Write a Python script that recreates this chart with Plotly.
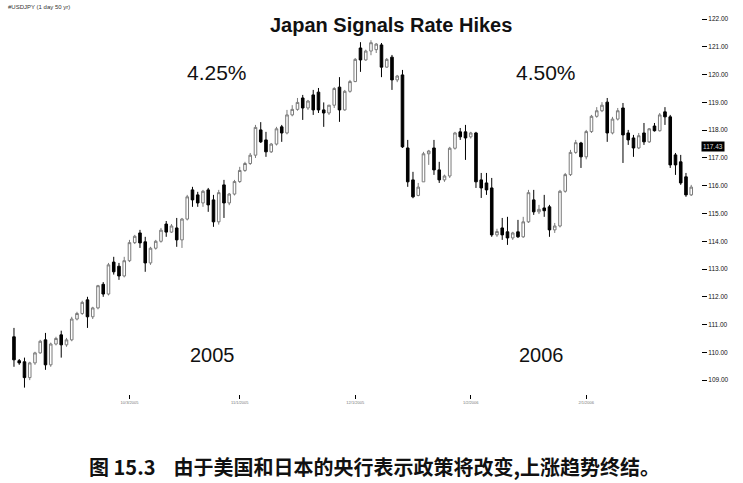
import pandas as pd
import plotly.graph_objects as go

# ---- data (USD/JPY daily candles) ----
dates = [d.strftime("%Y-%m-%d") for d in pd.bdate_range("2005-09-01", periods=130)]

opens = [
    110.56, 109.70, 109.66, 109.09, 109.62, 109.98, 110.45, 109.55, 110.30, 110.63,
    110.27, 110.45, 111.20, 111.40, 111.89, 111.28, 111.60, 112.45, 112.10, 113.25,
    113.10, 112.75, 113.30, 113.95, 114.30, 113.98, 113.22, 113.75, 114.00, 114.62,
    114.33, 114.48, 114.05, 114.80, 115.85, 115.67, 115.38, 115.85, 115.49, 114.70,
    116.03, 115.38, 115.70, 116.15, 116.55, 116.80, 117.10, 118.01, 117.65, 117.22,
    117.50, 118.12, 117.90, 118.55, 118.75, 119.16, 118.80, 119.27, 119.37, 118.73,
    118.62, 118.90, 119.55, 118.73, 119.40, 119.75, 120.96, 120.53, 120.85, 120.90,
    121.07, 120.27, 120.63, 119.81, 119.99, 117.36, 116.21, 115.65, 116.14, 117.15,
    117.36, 116.57, 116.21, 116.35, 117.35, 117.94, 117.94, 117.76, 117.90, 116.21,
    116.10, 115.92, 114.23, 114.48, 114.34, 114.12, 114.34, 114.16, 114.70, 115.49,
    115.06, 115.20, 115.24, 114.41, 114.55, 115.80, 116.40, 117.20, 117.54, 117.04,
    117.95, 118.50, 118.70, 119.01, 117.90, 118.40, 118.80, 117.90, 117.72, 117.36,
    117.90, 117.58, 118.15, 117.98, 118.66, 118.48, 117.11, 116.86, 116.32, 115.67,
]
highs = [
    110.88, 109.76, 109.81, 109.66, 110.02, 110.45, 110.70, 110.35, 110.56, 110.78,
    110.52, 111.28, 111.46, 111.86, 112.00, 111.64, 112.43, 112.53, 113.22, 113.44,
    113.22, 113.44, 114.05, 114.23, 114.41, 114.16, 113.80, 114.05, 114.48, 114.73,
    114.62, 114.84, 114.84, 115.67, 115.96, 115.78, 115.85, 115.92, 115.67, 115.85,
    116.21, 115.74, 116.21, 116.68, 116.86, 117.18, 118.19, 118.29, 117.94, 117.54,
    118.12, 118.19, 118.73, 118.90, 119.16, 119.27, 119.09, 119.45, 119.52, 119.00,
    118.91, 119.55, 119.91, 119.45, 119.81, 120.60, 121.17, 120.90, 121.24, 121.14,
    121.14, 120.60, 120.71, 119.99, 120.17, 117.65, 116.50, 116.10, 117.22, 117.29,
    117.65, 116.86, 116.40, 117.40, 117.94, 118.08, 118.19, 117.94, 117.94, 116.46,
    116.46, 116.28, 114.45, 114.84, 114.88, 114.34, 114.77, 114.88, 115.85, 115.85,
    115.31, 115.67, 115.31, 114.66, 115.85, 116.46, 117.29, 117.65, 117.58, 118.01,
    118.55, 118.83, 119.01, 119.16, 118.48, 118.80, 118.98, 118.01, 117.83, 117.90,
    118.26, 118.08, 118.26, 118.62, 118.83, 118.55, 117.18, 117.11, 116.46, 116.03,
]
lows = [
    109.48, 109.55, 108.73, 109.00, 109.55, 109.95, 109.37, 109.48, 110.25, 109.81,
    110.20, 110.40, 111.15, 111.35, 110.88, 111.20, 111.55, 112.00, 112.05, 112.80,
    112.61, 112.70, 113.25, 113.90, 113.76, 112.90, 113.15, 113.70, 113.95, 114.16,
    114.30, 113.80, 113.76, 114.75, 115.24, 115.24, 115.24, 115.06, 114.52, 114.60,
    114.84, 115.30, 115.65, 116.10, 116.50, 116.75, 117.00, 117.54, 117.04, 117.18,
    117.45, 117.58, 117.85, 118.50, 118.70, 118.37, 118.73, 118.55, 118.62, 118.12,
    118.55, 118.80, 118.30, 118.70, 119.35, 119.73, 120.10, 120.50, 120.70, 120.78,
    119.91, 120.25, 119.45, 119.73, 117.36, 115.96, 115.55, 115.62, 116.14, 116.75,
    116.39, 116.10, 116.14, 116.28, 117.30, 117.65, 116.93, 117.70, 115.92, 115.56,
    115.67, 114.16, 114.16, 114.05, 113.87, 114.05, 114.12, 114.12, 114.66, 114.95,
    114.98, 114.88, 114.16, 114.30, 114.50, 115.75, 116.35, 117.15, 116.64, 116.95,
    117.90, 118.45, 118.65, 117.58, 117.85, 118.35, 116.82, 117.47, 117.04, 117.32,
    117.47, 117.54, 117.95, 117.95, 118.19, 116.64, 116.39, 116.03, 115.60, 115.63,
]
closes = [
    109.73, 109.62, 109.09, 109.62, 109.98, 110.40, 109.55, 110.30, 110.50, 110.27,
    110.45, 111.20, 111.40, 111.80, 111.28, 111.60, 112.40, 112.10, 113.15, 112.90,
    112.75, 113.30, 113.95, 114.18, 113.94, 113.22, 113.75, 114.00, 114.40, 114.33,
    114.55, 114.05, 114.80, 115.60, 115.49, 115.38, 115.80, 115.31, 114.70, 115.75,
    115.38, 115.70, 116.15, 116.55, 116.80, 117.10, 118.10, 117.58, 117.22, 117.50,
    118.05, 117.90, 118.55, 118.75, 119.00, 118.80, 119.05, 118.73, 118.73, 118.62,
    118.90, 119.50, 118.73, 119.40, 119.75, 120.55, 120.53, 120.85, 121.15, 121.10,
    120.27, 120.55, 119.81, 119.95, 117.40, 116.14, 115.60, 115.95, 117.15, 117.25,
    116.57, 116.21, 116.35, 117.35, 117.90, 117.76, 117.72, 117.90, 116.14, 115.92,
    115.85, 114.23, 114.35, 114.23, 114.12, 114.30, 114.16, 114.70, 115.75, 115.06,
    115.15, 115.10, 114.41, 114.55, 115.80, 116.40, 117.20, 117.55, 117.04, 117.95,
    118.50, 118.70, 118.90, 117.90, 118.40, 118.70, 117.83, 117.65, 117.36, 117.80,
    117.58, 118.05, 117.98, 118.55, 118.48, 116.75, 116.75, 116.10, 115.67, 115.95,
]

month_ticks = ["2005-10-03", "2005-11-01", "2005-12-01", "2006-01-02", "2006-02-01"]
month_labels = ["10/3/2005", "11/1/2005", "12/1/2005", "1/2/2006", "2/1/2006"]
price_ticks = [109, 110, 111, 112, 113, 114, 115, 116, 117, 118, 119, 120, 121, 122]
last_price = 117.43

fig = go.Figure()
fig.add_trace(go.Candlestick(
    x=dates, open=opens, high=highs, low=lows, close=closes,
    increasing=dict(line=dict(color="#7a7a7a", width=1), fillcolor="#ffffff"),
    decreasing=dict(line=dict(color="#000000", width=1), fillcolor="#000000"),
    whiskerwidth=0, showlegend=False, hoverinfo="skip",
))

fig.update_layout(
    width=743, height=483,
    margin=dict(l=5, r=42, t=8, b=89),
    paper_bgcolor="white", plot_bgcolor="white",
    font=dict(family="Liberation Sans, Arial, sans-serif", color="#000"),
    showlegend=False,
    xaxis=dict(
        type="category", range=[-1.71, 130.86], rangeslider=dict(visible=False),
        showgrid=False, zeroline=False, showline=False,
        tickmode="array", tickvals=month_ticks, ticktext=month_labels,
        ticks="outside", ticklen=4, tickwidth=1, tickcolor="#000",
        tickfont=dict(size=4, color="#777"),
    ),
    yaxis=dict(
        side="right", range=[108.5, 122.4], showgrid=False, zeroline=False,
        showline=False, tickmode="array", tickvals=price_ticks, tickformat=".2f",
        ticks="outside", ticklen=5, tickwidth=1, tickcolor="#000",
        tickfont=dict(size=6.5, color="#111"),
    ),
)

ann = [
    dict(text="<b>Japan Signals Rate Hikes</b>", x=0.555, y=0.956, size=20),
    dict(text="4.25%", x=0.305, y=0.832, size=21),
    dict(text="4.50%", x=0.777, y=0.832, size=21),
    dict(text="2005", x=0.298, y=0.101, size=20),
    dict(text="2006", x=0.771, y=0.101, size=20),
]
for a in ann:
    fig.add_annotation(text=a["text"], x=a["x"], y=a["y"], xref="paper", yref="paper",
                       xanchor="center", yanchor="middle", showarrow=False,
                       font=dict(size=a["size"], color="#111",
                                 family="Liberation Sans, Arial, sans-serif"))

fig.add_annotation(text="#USDJPY (1 day 50 yr)", x=0.002, y=1.003, xref="paper", yref="paper",
                   xanchor="left", yanchor="middle", showarrow=False,
                   font=dict(size=6, color="#333"))

fig.add_annotation(text=f"{last_price:.2f}", x=1.0, y=last_price, xref="paper", yref="y",
                   xanchor="left", yanchor="middle", showarrow=False, bgcolor="#000",
                   borderpad=1, font=dict(size=6.5, color="#ddd"))

fig.add_annotation(text="<b>图 15.3    由于美国和日本的央行表示政策将改变,上涨趋势终结。</b>",
                   x=0.531, y=-0.187, xref="paper", yref="paper",
                   xanchor="center", yanchor="middle", showarrow=False,
                   font=dict(size=20, color="#111", family="Noto Sans CJK SC"))

fig.write_html("out.html", config={"displayModeBar": False},
               post_script="document.body.style.margin='0px';")
